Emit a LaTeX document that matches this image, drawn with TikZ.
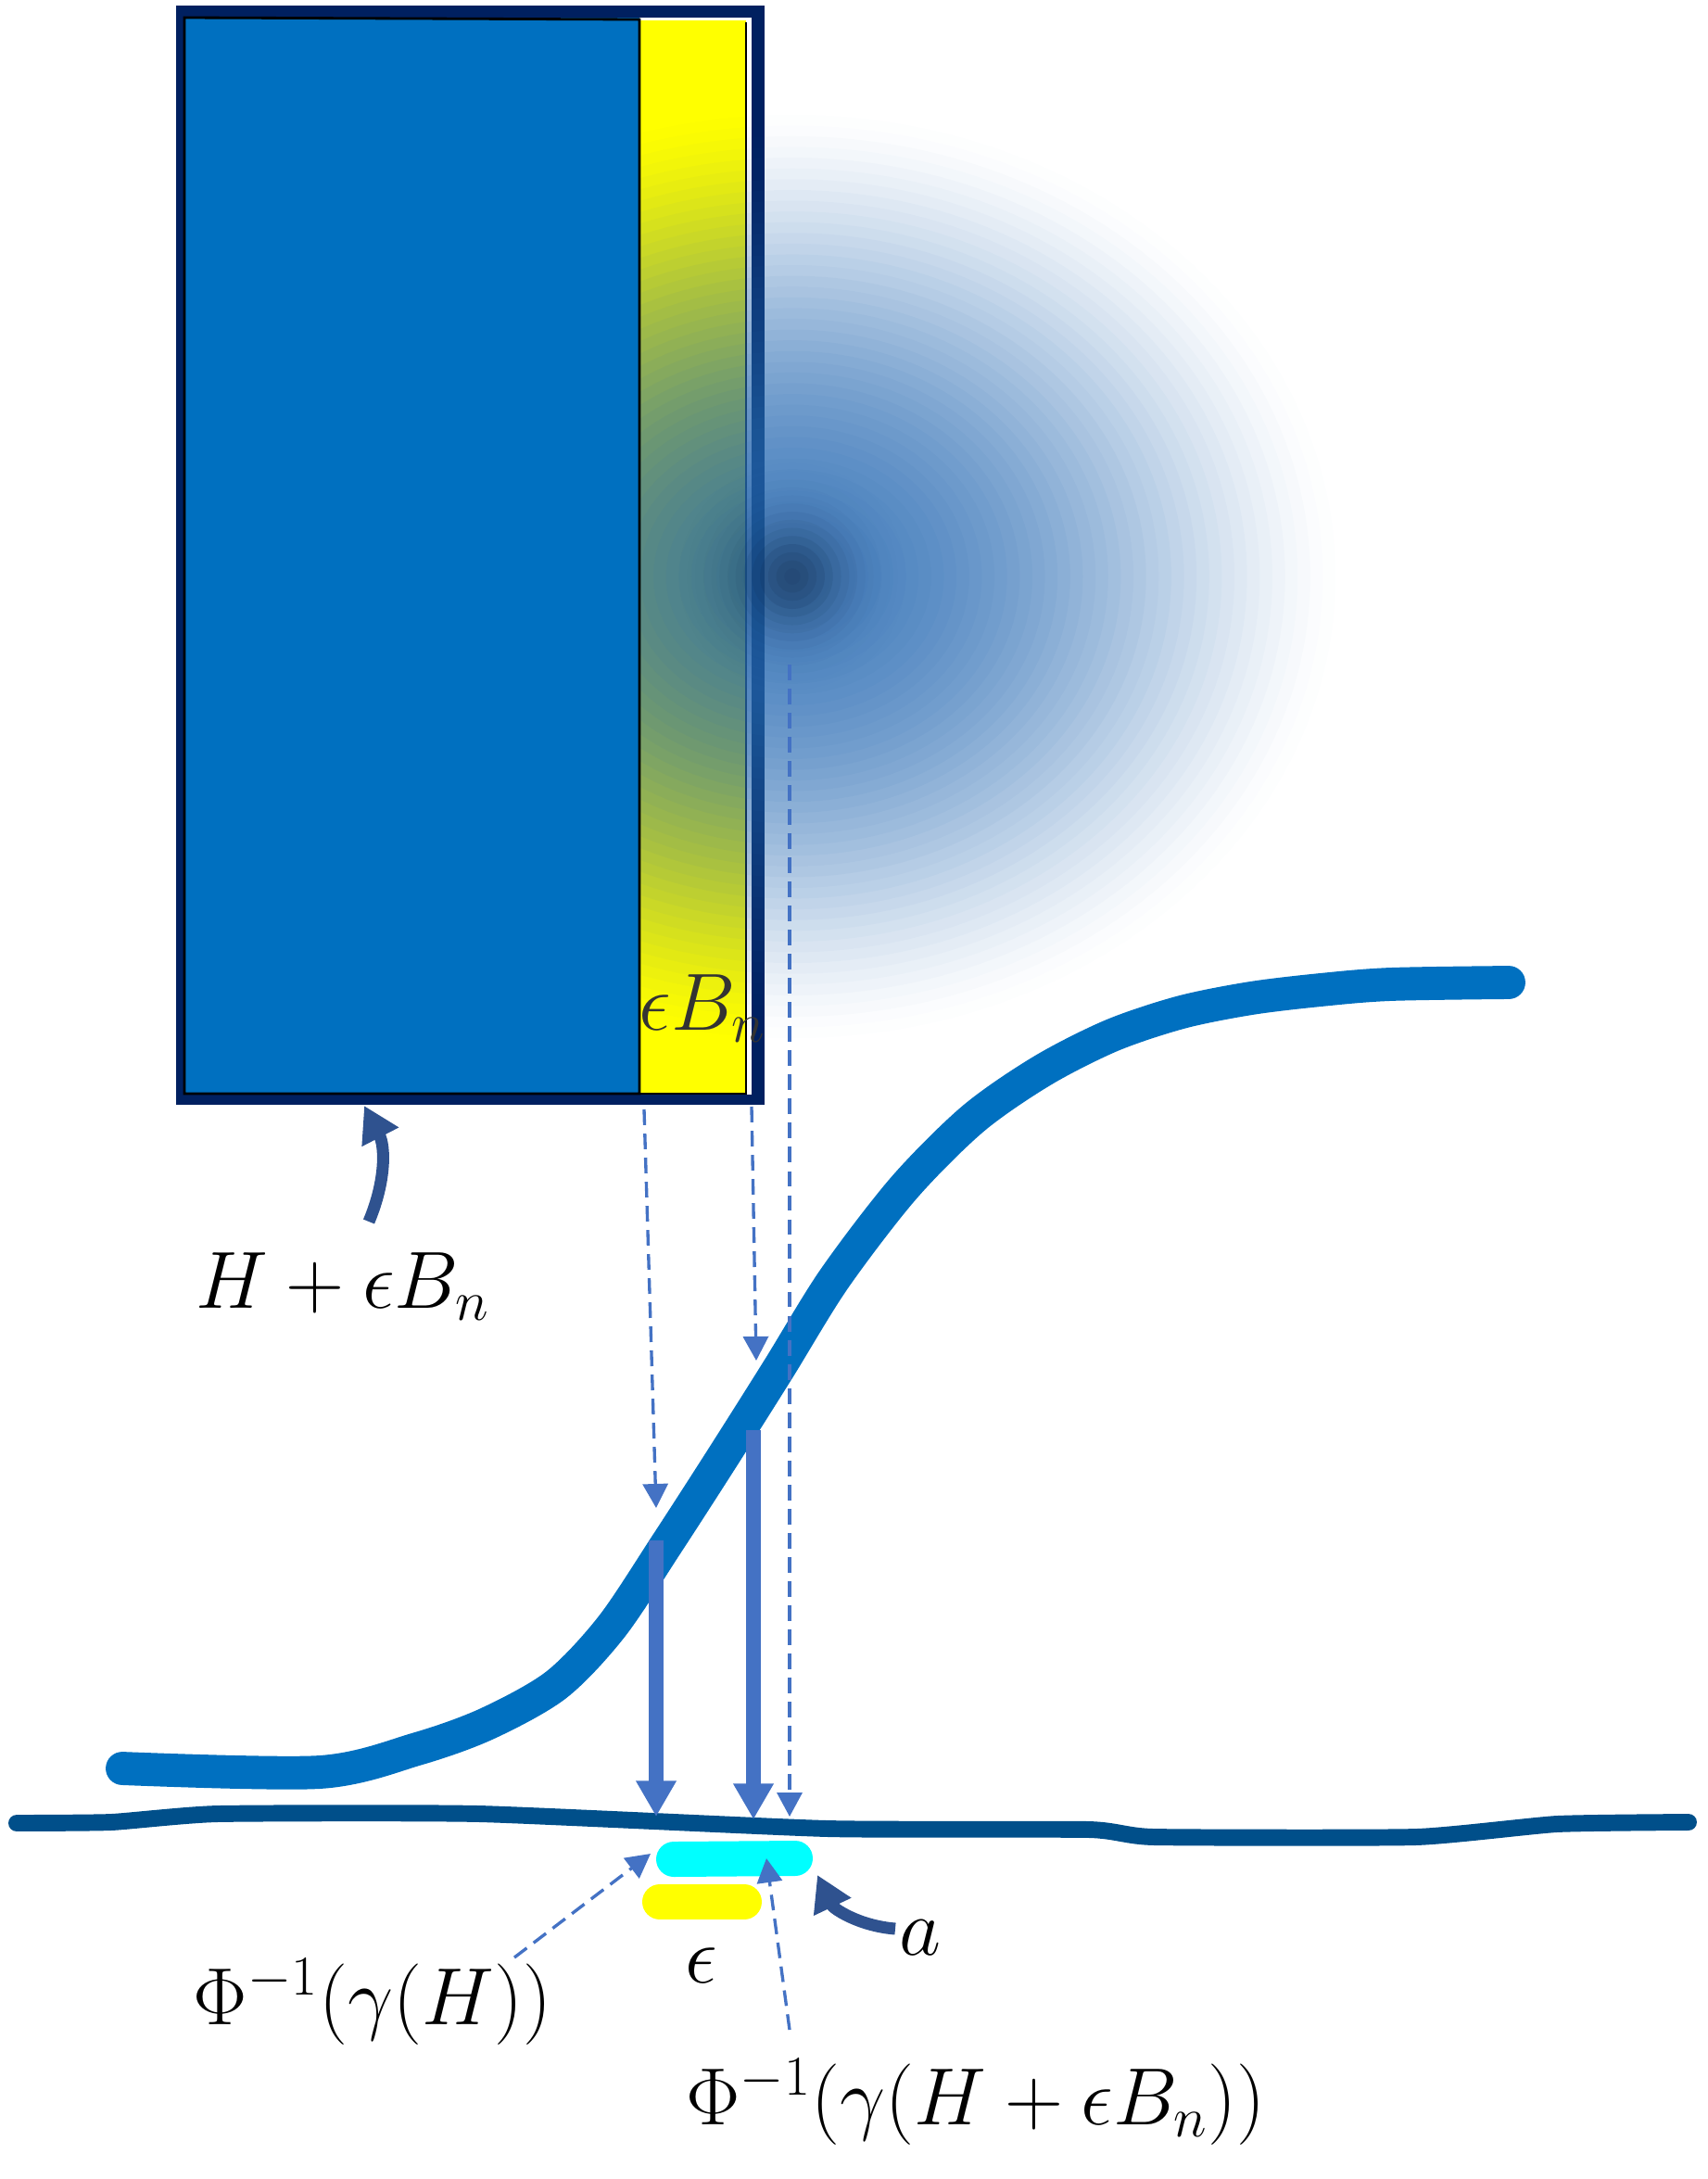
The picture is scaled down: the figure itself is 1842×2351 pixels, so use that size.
\documentclass[tikz,border=0pt]{standalone}
\usepackage{xcolor}
\usetikzlibrary{arrows.meta,positioning}

\definecolor{navyframe}{HTML}{002060}
\definecolor{boxblue}{HTML}{0070C0}
\definecolor{axisblue}{HTML}{004F8A}
\definecolor{arrowblue}{HTML}{4472C4}
\definecolor{darkarrow}{HTML}{2F528F}
\definecolor{blobblue}{HTML}{2F6FB5}
\definecolor{blobcore}{HTML}{0F2A4A}
\definecolor{stripyellow}{HTML}{FFFF00}
\definecolor{barcyan}{HTML}{00FFFF}

\begin{document}
\begin{tikzpicture}[
  x=0.01cm, y=-0.01cm,
  lbl/.style={inner sep=0pt, font=\fontsize{23}{28}\selectfont},
  sigcurve/.style={boxblue, line width=10.2pt, line cap=round, line join=round},
  axisline/.style={axisblue, line width=5.1pt, line cap=round, line join=round},
  droparrow/.style={arrowblue, line width=4.3pt, -{Triangle[width=11.7pt,length=11pt]}},
  guide/.style={arrowblue, line width=0.95pt, dash pattern=on 4.8pt off 2.6pt, -{Triangle[width=7.7pt,length=7.4pt]}},
  pointer/.style={darkarrow, line width=3.7pt, -{Triangle[width=12pt,length=10.8pt]}},
  markbar/.style={line width=10.8pt, line cap=round}
]
\useasboundingbox (0,0) rectangle (1842,2351);

% the box H + eps B_n
\fill[navyframe] (190,6) rectangle (825,1192);
\fill[white] (199,19) rectangle (811,1181);
\fill[stripyellow] (690,22) rectangle (805,1180);
\draw[line width=0.7pt] (805,24) -- (805,1180) -- (690,1180);

% the bump, built from stacked translucent ellipses
\coordinate (blobC) at (855,622);
\foreach \k in {1,...,44} {
  \pgfmathsetmacro{\blobF}{0.999*(45-\k)/44}
  \pgfmathsetmacro{\blobP}{0.999*(46-\k)/44}
  \pgfmathsetmacro{\blobA}{0.88*max(0.0001,1-\blobF^2)^1.6}
  \pgfmathsetmacro{\blobB}{0.88*max(0.0001,1-\blobP^2)^1.6}
  \pgfmathsetmacro{\blobO}{max(0,1-(1-\blobA)/(1-\blobB))}
  \pgfmathsetmacro{\blobRx}{\blobF*6.0}
  \pgfmathsetmacro{\blobRy}{\blobF*5.1}
  \fill[blobblue, fill opacity=\blobO] (blobC) ellipse [x radius=\blobRx cm, y radius=\blobRy cm];
}
\foreach \k in {1,...,16} {
  \pgfmathsetmacro{\blobF}{(17-\k)/16}
  \pgfmathsetmacro{\blobP}{(18-\k)/16}
  \pgfmathsetmacro{\blobA}{0.6*exp(0-(\blobF/0.4)^2)}
  \pgfmathsetmacro{\blobB}{0.6*exp(0-(\blobP/0.4)^2)}
  \pgfmathsetmacro{\blobO}{1-(1-\blobA)/(1-\blobB)}
  \pgfmathsetmacro{\blobRx}{\blobF*1.4}
  \fill[blobcore, fill opacity=\blobO] (blobC) circle [radius=\blobRx cm];
}

\fill[boxblue] (199,19) rectangle (690,1180);
\draw[line width=0.8pt] (199,19) -- (690,21) -- (690,1180) -- (199,1180) -- cycle;
\node[lbl, text=black!80] (stripLbl) at (758,1088) {$\epsilon B_n$};

% sigmoid and axis
\draw[sigcurve] plot[smooth, tension=0.5] coordinates {(132,1908) (345,1912) (450,1887)
  (525,1860) (600,1818) (660,1755) (720,1665) (780,1572) (840,1477) (900,1380)
  (975,1282) (1050,1207) (1125,1155) (1200,1117) (1275,1092) (1350,1077)
  (1425,1068) (1500,1062) (1628,1060)};
\draw[axisline] plot[smooth, tension=0.3] coordinates {(18,1967) (120,1966) (235,1957)
  (517,1957) (893,1973) (1175,1974) (1245,1982) (1528,1982) (1680,1968) (1822,1966)};

% projections
\coordinate (stripL) at (695,1197);
\coordinate (stripR) at (811,1194);
\coordinate (hitL) at (708,1627);
\coordinate (hitR) at (816,1468);
\coordinate (blobDrop) at (852,717);
\coordinate (axisC) at (852,1960);
\coordinate (curveL) at (708,1662);
\coordinate (axisL) at (708,1960);
\coordinate (curveR) at (813,1543);
\coordinate (axisR) at (813,1963);

\draw[guide] (stripL) -- (hitL);
\draw[guide] (stripR) -- (hitR);
\draw[guide] (blobDrop) -- (axisC);
\draw[droparrow] (curveL) -- (axisL);
\draw[droparrow] (curveR) -- (axisR);

% intervals
\coordinate (cyanL) at (727,2006);
\coordinate (cyanR) at (858,2005);
\coordinate (yelL) at (712,2052);
\coordinate (yelR) at (803,2052);
\draw[markbar, barcyan] (cyanL) -- (cyanR);
\draw[markbar, stripyellow] (yelL) -- (yelR);

% labels
\node[lbl] (sumLbl) at (370,1388) {$H+\epsilon B_n$};
\node[lbl] (epsLbl) at (757,2121) {$\epsilon$};
\node[lbl] (aLbl) at (993,2091) {$a$};
\node[lbl] (phiH) at (402,2160) {$\Phi^{-1}(\gamma(H))$};
\node[lbl] (phiHB) at (1053,2268) {$\Phi^{-1}(\gamma(H+\epsilon B_n))$};

% pointers
\coordinate (sumTail) at (398,1318);
\coordinate (boxHit) at (393,1193);
\draw[pointer] (sumTail) to[bend right=25] (boxHit);
\coordinate (aTail) at (966,2081);
\coordinate (cyanHit) at (882,2023);
\draw[pointer] (aTail) to[bend left=30] (cyanHit);

\coordinate (phiHTail) at (555,2112);
\coordinate (cyanTipL) at (702,2000);
\draw[guide] (phiHTail) -- (cyanTipL);
\coordinate (phiHBTail) at (852,2190);
\coordinate (cyanTipM) at (827,2005);
\draw[guide] (phiHBTail) -- (cyanTipM);
\end{tikzpicture}
\end{document}
